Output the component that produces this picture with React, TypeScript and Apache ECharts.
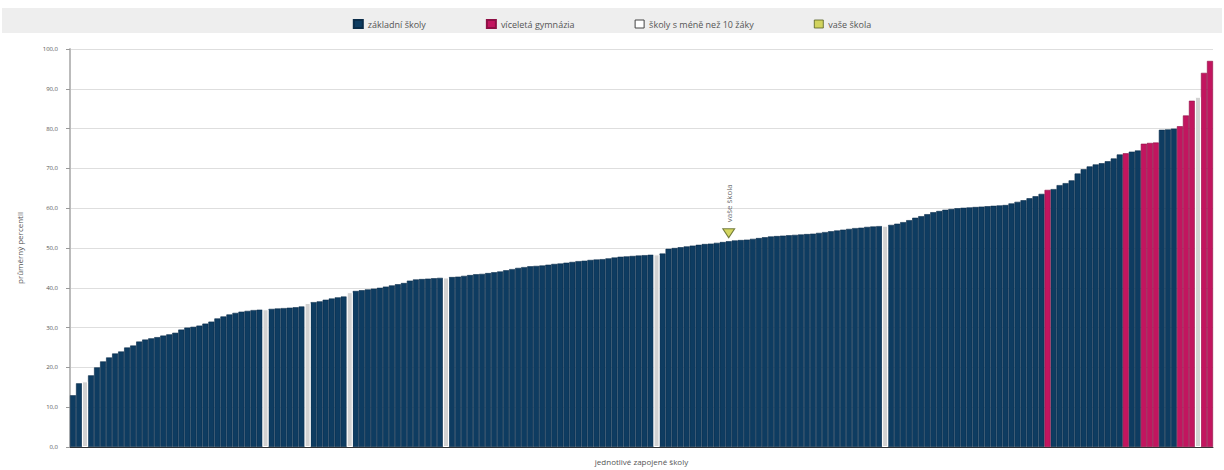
import React, { useEffect, useRef } from "react";
import * as echarts from "echarts";

// Average percentile of each participating school, sorted ascending
const values: number[] = [
  13, 16, 16.5, 18, 20, 21.5, 22.5, 23.5, 24, 25,
  25.5, 26.5, 27, 27.3, 27.6, 28, 28.3, 28.7, 29.5, 30,
  30.2, 30.5, 31, 31.5, 32.3, 32.8, 33.3, 33.7, 34, 34.2,
  34.4, 34.5, 34.6, 34.7, 34.8, 34.9, 35, 35.1, 35.3, 36.2,
  36.4, 36.6, 37, 37.3, 37.6, 37.8, 38.9, 39.2, 39.4, 39.6,
  39.8, 40, 40.3, 40.6, 40.9, 41.2, 41.8, 42.1, 42.2, 42.3,
  42.4, 42.5, 42.6, 42.7, 42.8, 43, 43.2, 43.4, 43.5, 43.7,
  43.9, 44.1, 44.4, 44.7, 45, 45.2, 45.4, 45.5, 45.6, 45.8,
  46, 46.1, 46.3, 46.5, 46.7, 46.8, 47, 47.1, 47.2, 47.4,
  47.6, 47.8, 47.9, 48, 48.1, 48.2, 48.3, 48.4, 48.6, 49.8,
  50, 50.2, 50.4, 50.6, 50.8, 51, 51.1, 51.3, 51.5, 51.7,
  51.9, 52, 52.1, 52.3, 52.5, 52.7, 52.9, 53, 53.1, 53.2,
  53.3, 53.4, 53.5, 53.6, 53.8, 54, 54.2, 54.4, 54.6, 54.8,
  55, 55.1, 55.3, 55.4, 55.5, 55.6, 55.8, 56.1, 56.5, 57,
  57.6, 58, 58.5, 59, 59.3, 59.6, 59.8, 60, 60.1, 60.2,
  60.3, 60.4, 60.5, 60.6, 60.7, 60.8, 61.2, 61.6, 62, 62.5,
  63, 63.6, 64.6, 64.8, 65.8, 66.3, 67, 68.7, 69.8, 70.5,
  71, 71.3, 71.8, 72.5, 73.5, 73.8, 74.2, 74.5, 76.2, 76.4,
  76.5, 79.7, 79.8, 80, 80.6, 83.3, 87, 88, 94, 97,
];

// Type of each school: z = základní škola, g = víceletá gymnázia, s = méně než 10 žáků
const gymIdx: number[] = [162, 175, 178, 179, 180, 184, 185, 186, 188, 189];
const smallIdx: number[] = [2, 32, 39, 46, 62, 97, 135, 187];
const yourIdx = 109;

const seriesNames = ["základní školy", "víceletá gymnázia", "školy s méně než 10 žáky", "vaše škola"];
const yTicks = [0, 10, 20, 30, 40, 50, 60, 70, 80, 90, 100];

const categories = values.map((_, i) => String(i + 1));

export default function App() {
  const ref = useRef<HTMLDivElement>(null);
  useEffect(() => {
    if (!ref.current) return;
    const chart = echarts.init(ref.current, undefined, { renderer: "svg" });
    const typeOf = (i: number) =>
      gymIdx.includes(i) ? "g" : smallIdx.includes(i) ? "s" : "z";
    const pick = (t: string) => values.map((v, i) => (typeOf(i) === t ? v : null));
    const font = "Open Sans, Noto Sans, sans-serif";
    chart.setOption({
      animation: false,
      textStyle: { fontFamily: font },
      graphic: [
        {
          type: "rect",
          left: 2,
          top: 8,
          shape: { width: 1220, height: 25 },
          style: { fill: "#eeeeee" },
          z: -10,
        },
      ],
      legend: {
        top: 14,
        left: "center",
        itemGap: 60,
        itemWidth: 9,
        itemHeight: 8,
        textStyle: { fontSize: 9, color: "#555", fontFamily: font },
        data: [
          { name: seriesNames[0], icon: "rect" },
          { name: seriesNames[1], icon: "rect" },
          {
            name: seriesNames[2],
            icon: "rect",
            itemStyle: { color: "#ffffff", borderColor: "#444", borderWidth: 1 },
          },
          {
            name: seriesNames[3],
            icon: "rect",
            itemStyle: { color: "#c9cc3a", borderColor: "#556020", borderWidth: 1 },
          },
        ],
      },
      grid: { left: 70, right: 11, top: 49, bottom: 18 },
      xAxis: {
        type: "category",
        data: categories,
        name: "jednotlivé zapojené školy",
        nameLocation: "middle",
        nameGap: 10,
        nameTextStyle: { fontSize: 8, color: "#555" },
        axisLine: { lineStyle: { color: "#333", width: 1 } },
        axisTick: { show: false },
        axisLabel: { show: false },
      },
      yAxis: {
        type: "value",
        min: 0,
        max: 100,
        interval: 10,
        name: "průměrný percentil",
        nameLocation: "middle",
        nameGap: 47,
        nameTextStyle: { fontSize: 8, color: "#555" },
        axisLine: { show: true, lineStyle: { color: "#bbbbbb", width: 2 } },
        axisTick: { show: true, length: 4, lineStyle: { color: "#999" } },
        axisLabel: {
          fontSize: 6,
          color: "#555",
          margin: 12,
          formatter: (v: number) =>
            yTicks.includes(v) ? v.toFixed(1).replace(".", ",") : "",
        },
        splitLine: { lineStyle: { color: "#dedede", width: 1 } },
      },
      series: [
        {
          name: seriesNames[0],
          type: "bar",
          data: pick("z"),
          barGap: "-100%",
          barCategoryGap: 0,
          itemStyle: { color: "#0e3c61", borderColor: "#0a2c49", borderWidth: 0.6 },
        },
        {
          name: seriesNames[1],
          type: "bar",
          data: pick("g"),
          barGap: "-100%",
          barCategoryGap: 0,
          itemStyle: { color: "#c2155f", borderColor: "#8e0f45", borderWidth: 0.6 },
        },
        {
          name: seriesNames[2],
          type: "bar",
          data: pick("s"),
          barGap: "-100%",
          barCategoryGap: 0,
          itemStyle: { color: "#d2d2d2", borderColor: "#ffffff", borderWidth: 1 },
        },
        {
          name: seriesNames[3],
          type: "scatter",
          data: values.map((v, i) => (i === yourIdx ? v : null)),
          symbol: "triangle",
          symbolRotate: 180,
          symbolSize: [12, 9],
          symbolOffset: [0, -8],
          itemStyle: { color: "#c9cc3a", borderColor: "#556020", borderWidth: 1 },
          label: {
            show: true,
            formatter: "vaše škola",
            position: "top",
            rotate: 90,
            align: "left",
            verticalAlign: "middle",
            distance: 6,
            fontSize: 8,
            color: "#444",
          },
          z: 5,
        },
      ],
    });
    return () => chart.dispose();
  }, []);
  return (
    <div
      ref={ref}
      style={{ position: "fixed", left: 0, top: 0, width: 1224, height: 470, background: "#fff" }}
    />
  );
}
